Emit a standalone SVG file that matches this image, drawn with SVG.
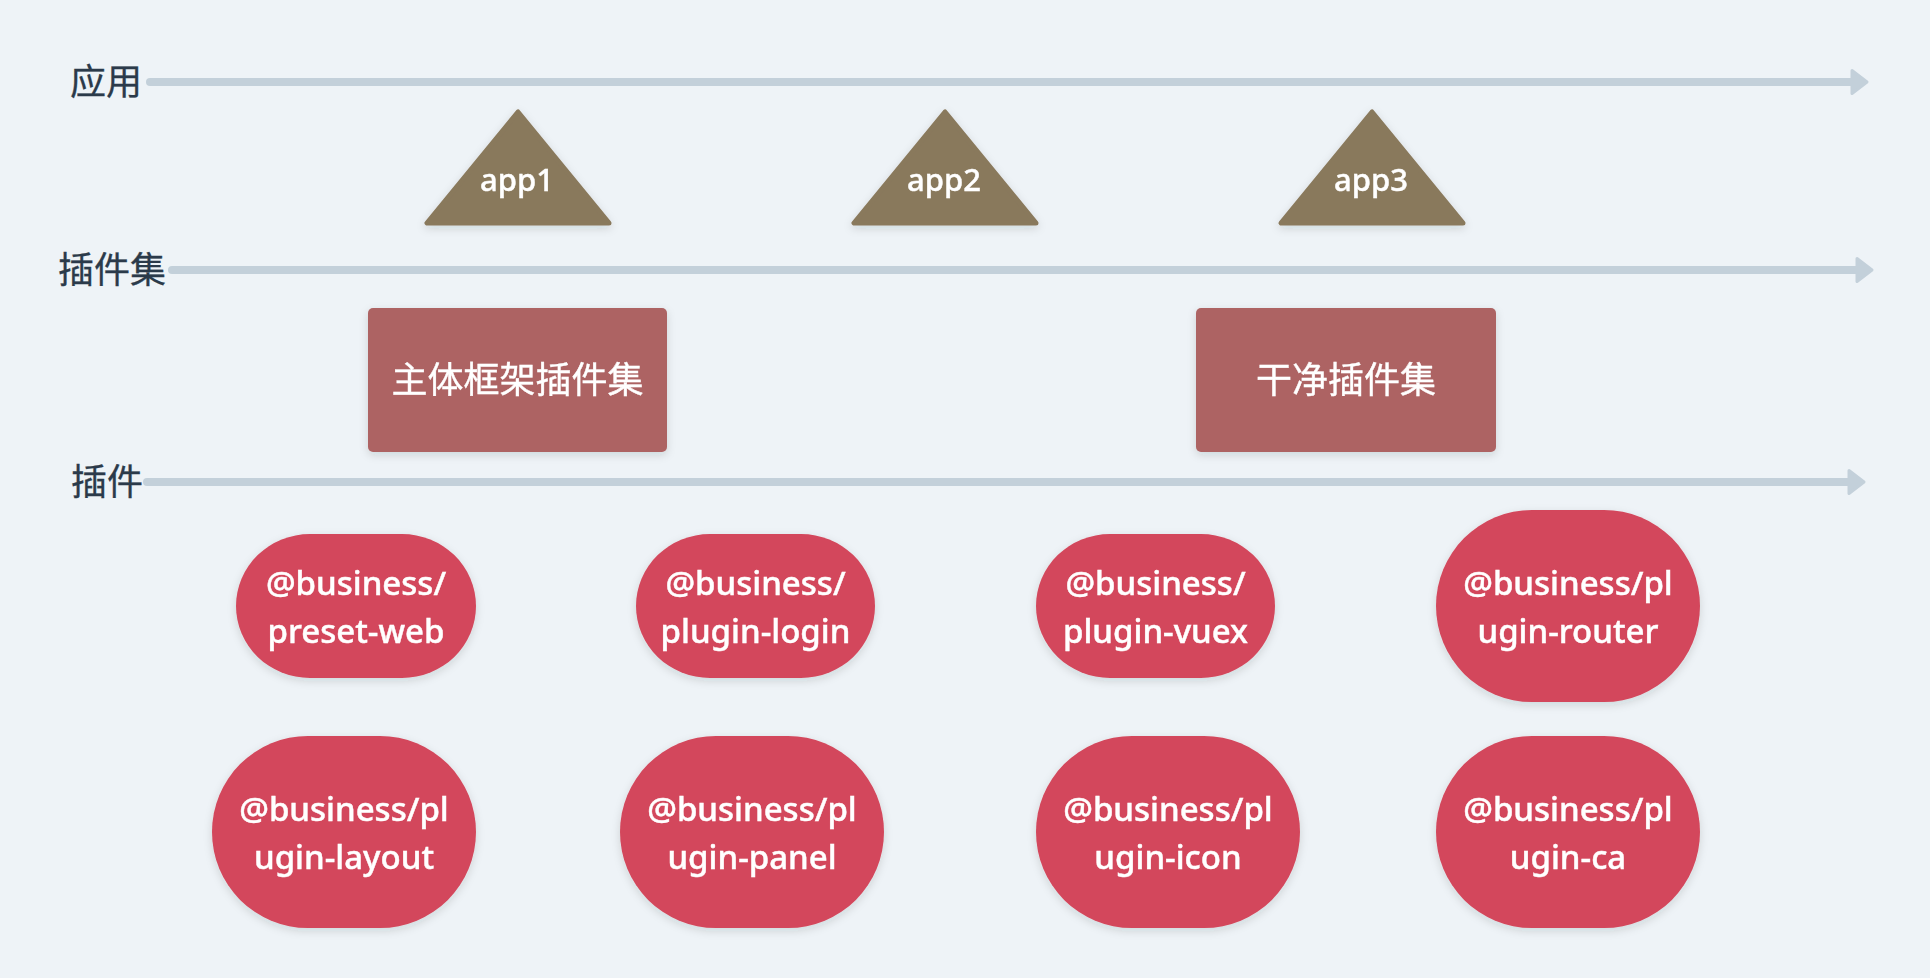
<svg xmlns="http://www.w3.org/2000/svg" width="1930" height="978" viewBox="0 0 1930 978">
<style>
.axis{stroke:#c3d0da;stroke-width:8;stroke-linecap:round;fill:none}
.lbl{font-family:"Noto Sans CJK SC","Noto Sans",sans-serif;font-size:36px;fill:#2b3a4a;text-anchor:end;stroke:#2b3a4a;stroke-width:0.3}
.tri{fill:#89795c;stroke:#89795c;stroke-width:5;stroke-linejoin:round}
.set{fill:#ad6464}
.plug{fill:#d3475b}
.tt{font-family:"Noto Sans","Liberation Sans",sans-serif;font-weight:500;fill:#ffffff;text-anchor:middle;stroke:#ffffff;stroke-width:0.45}
.cjk{font-family:"Noto Sans CJK SC","Noto Sans",sans-serif;font-size:36px;fill:#ffffff;text-anchor:middle;stroke:#ffffff;stroke-width:0.4}
</style>
<defs>
<filter id="sh" x="-20%" y="-20%" width="140%" height="150%">
<feDropShadow dx="0" dy="3" stdDeviation="4" flood-color="#1d2a38" flood-opacity="0.14"/>
</filter>
<marker id="ah" markerUnits="userSpaceOnUse" viewBox="-3 -16 24 32" markerWidth="24" markerHeight="32" refX="0" refY="0" orient="auto">
<path d="M1,-11.5 L16,0 L1,11.5 Z" fill="#c3d0da" stroke="#c3d0da" stroke-width="3" stroke-linejoin="round"/>
</marker>
</defs>
<rect x="0" y="0" width="1930" height="978" fill="#eef3f7"/>

<g id="connectors">
<path class="axis" d="M150,82 H1851" marker-end="url(#ah)"/>
<path class="axis" d="M172,270 H1856" marker-end="url(#ah)"/>
<path class="axis" d="M147,482 H1848" marker-end="url(#ah)"/>
</g>

<g id="label-app"><text class="lbl" x="142" y="95">应用</text></g>
<g id="label-set"><text class="lbl" x="166" y="283">插件集</text></g>
<g id="label-plugin"><text class="lbl" x="143" y="495">插件</text></g>

<g id="app1" filter="url(#sh)">
<polygon class="tri" points="518,112 427,223 609,223"/>
<text class="tt" x="517" y="191" font-size="31">app1</text>
</g>
<g id="app2" filter="url(#sh)">
<polygon class="tri" points="945,112 854,223 1036,223"/>
<text class="tt" x="944" y="191" font-size="31">app2</text>
</g>
<g id="app3" filter="url(#sh)">
<polygon class="tri" points="1372,112 1281,223 1463,223"/>
<text class="tt" x="1371" y="191" font-size="31">app3</text>
</g>

<g id="set-main" filter="url(#sh)">
<rect class="set" x="368" y="308" width="299" height="144" rx="5"/>
<text class="cjk" x="517.5" y="393">主体框架插件集</text>
</g>
<g id="set-clean" filter="url(#sh)">
<rect class="set" x="1196" y="308" width="300" height="144" rx="5"/>
<text class="cjk" x="1346" y="393">干净插件集</text>
</g>

<g id="preset-web" filter="url(#sh)">
<rect class="plug" x="236" y="534" width="240" height="144" rx="74" ry="72"/>
<text class="tt" font-size="33" x="356" y="595">@business/</text>
<text class="tt" font-size="33" x="356" y="643">preset-web</text>
</g>
<g id="plugin-login" filter="url(#sh)">
<rect class="plug" x="636" y="534" width="239" height="144" rx="74" ry="72"/>
<text class="tt" font-size="33" x="755.5" y="595">@business/</text>
<text class="tt" font-size="33" x="755.5" y="643">plugin-login</text>
</g>
<g id="plugin-vuex" filter="url(#sh)">
<rect class="plug" x="1036" y="534" width="239" height="144" rx="74" ry="72"/>
<text class="tt" font-size="33" x="1155.5" y="595">@business/</text>
<text class="tt" font-size="33" x="1155.5" y="643">plugin-vuex</text>
</g>
<g id="plugin-router" filter="url(#sh)">
<rect class="plug" x="1436" y="510" width="264" height="192" rx="96" ry="96"/>
<text class="tt" font-size="33" x="1568" y="595">@business/pl</text>
<text class="tt" font-size="33" x="1568" y="643">ugin-router</text>
</g>
<g id="plugin-layout" filter="url(#sh)">
<rect class="plug" x="212" y="736" width="264" height="192" rx="96" ry="96"/>
<text class="tt" font-size="33" x="344" y="821">@business/pl</text>
<text class="tt" font-size="33" x="344" y="869">ugin-layout</text>
</g>
<g id="plugin-panel" filter="url(#sh)">
<rect class="plug" x="620" y="736" width="264" height="192" rx="96" ry="96"/>
<text class="tt" font-size="33" x="752" y="821">@business/pl</text>
<text class="tt" font-size="33" x="752" y="869">ugin-panel</text>
</g>
<g id="plugin-icon" filter="url(#sh)">
<rect class="plug" x="1036" y="736" width="264" height="192" rx="96" ry="96"/>
<text class="tt" font-size="33" x="1168" y="821">@business/pl</text>
<text class="tt" font-size="33" x="1168" y="869">ugin-icon</text>
</g>
<g id="plugin-ca" filter="url(#sh)">
<rect class="plug" x="1436" y="736" width="264" height="192" rx="96" ry="96"/>
<text class="tt" font-size="33" x="1568" y="821">@business/pl</text>
<text class="tt" font-size="33" x="1568" y="869">ugin-ca</text>
</g>
</svg>
